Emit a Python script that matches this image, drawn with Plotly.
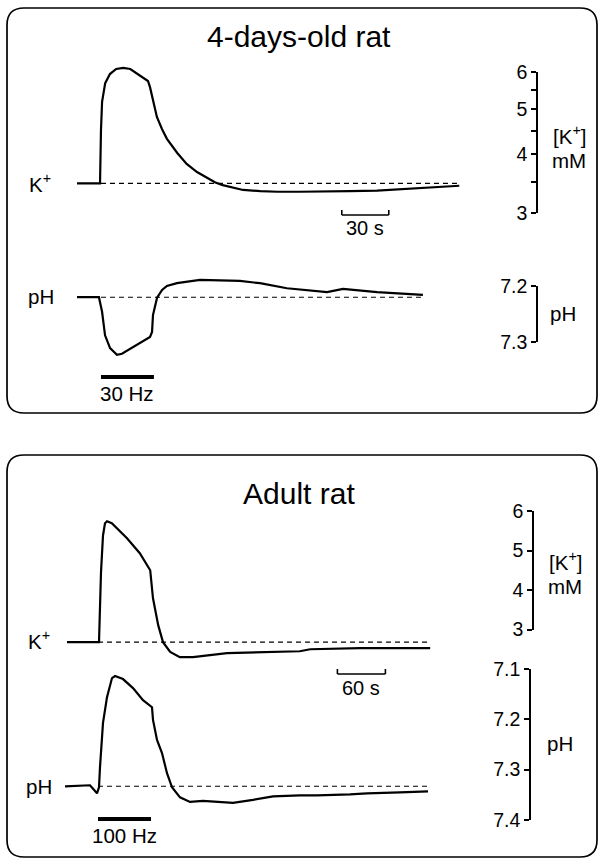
import math
import plotly.graph_objects as go

W, H = 599, 861
FONT = "Liberation Sans, Arial, Helvetica, sans-serif"

# ---------------- data ----------------
# 4-days-old rat, 30 Hz stimulation (time in s)
t_k_young = [0, 14.7, 15.3, 16, 18, 21, 25, 29.5, 34, 40, 45.3, 46.6, 48.5, 51, 54.3, 57.4,
             64, 70, 76.6, 83, 88, 93, 100, 106, 117, 128, 142, 160, 174, 191.5, 206, 219, 232, 244]
k_young = [3.47, 3.47, 4.5, 5.18, 5.68, 5.94, 6.09, 6.12, 6.09, 5.91, 5.74, 5.57, 5.23, 4.81, 4.53, 4.32,
           4.03, 3.82, 3.67, 3.56, 3.49, 3.44, 3.39, 3.36, 3.34, 3.33, 3.33, 3.33, 3.34, 3.35, 3.375, 3.39, 3.42, 3.43]
t_ph_young = [0, 14.0, 16.0, 17.9, 21.1, 25.5, 28.7, 38.3, 46.6, 47.9, 48.5, 51.1, 54.3, 57.4,
              63.8, 78.5, 104, 116.8, 134, 159.6, 169.8, 191.5, 210.6, 220.8]
ph_young = [7.22, 7.22, 7.246, 7.288, 7.311, 7.323, 7.321, 7.305, 7.291, 7.282, 7.252, 7.221, 7.207, 7.200,
            7.195, 7.189, 7.191, 7.195, 7.204, 7.211, 7.205, 7.211, 7.214, 7.216]
k_base_young = 3.47
ph_base_young = 7.22
stim_young = [15.3, 49.1]      # 30 Hz
timebar_young = [169, 199]     # 30 s

# Adult rat, 100 Hz stimulation
t_k_adult = [0, 40, 42.5, 45, 47.5, 50, 56, 75, 91, 101, 104, 107.5, 114, 120, 129, 141, 157.5,
             200, 241, 291, 304, 366, 407.5, 454]
k_adult = [2.68, 2.68, 4.45, 5.38, 5.69, 5.74, 5.69, 5.31, 4.93, 4.58, 4.50, 3.79, 3.11, 2.68, 2.43, 2.30, 2.30,
           2.40, 2.43, 2.45, 2.50, 2.53, 2.53, 2.53]
t_ph_adult = [-2.5, 28.75, 37.5, 40, 41.25, 45, 50, 56.25, 60, 70, 82.5, 95, 106.25, 107.5, 112.5, 118.75,
              125, 131.25, 141.25, 153.75, 170, 187.5, 207.5, 232.5, 257.5, 291.25, 312.5, 353.75, 375, 416.25, 451.25]
ph_adult = [7.333, 7.331, 7.347, 7.335, 7.295, 7.207, 7.156, 7.118, 7.114, 7.120, 7.138, 7.162, 7.176, 7.201,
            7.241, 7.267, 7.307, 7.335, 7.355, 7.364, 7.362, 7.364, 7.366, 7.360, 7.353, 7.351, 7.351, 7.349,
            7.347, 7.345, 7.343]
k_base_adult = 2.68
ph_base_adult = 7.333
stim_adult = [38.75, 105]      # 100 Hz
timebar_adult = [338, 398]     # 60 s

# scale-bar ticks
k_ticks_young = [3, 4, 5, 6]
k_minor_young = [3.5, 4.5, 5.5]
ph_ticks_young = [7.2, 7.3]
k_ticks_adult = [3, 4, 5, 6]
ph_ticks_adult = [7.1, 7.2, 7.3, 7.4]

# ---------------- layout helpers (pixels -> paper) ----------------
def px_x(x):
    return x / W

def px_y(y):
    return 1 - y / H

def axis_setup(dom_px, p1, v1, p2, v2, log=False):
    f = math.log10 if log else (lambda v: v)
    k = (f(v2) - f(v1)) / (p2 - p1)
    top, bot = dom_px
    rng = [f(v1) + (bot - p1) * k, f(v1) + (top - p1) * k]
    dom = [px_y(bot), px_y(top)]
    return dom, rng

def x_range(px_per_s, x0_px):
    return [-x0_px / px_per_s, (W - x0_px) / px_per_s]

fig = go.Figure()
line = dict(color="black", width=2.2)
dash = dict(color="black", width=1.1, dash="5px,4px")

fig.add_trace(go.Scatter(x=t_k_young, y=k_young, mode="lines", line=line, xaxis="x", yaxis="y"))
fig.add_trace(go.Scatter(x=[stim_young[0], t_k_young[-1]], y=[k_base_young] * 2, mode="lines",
                         line=dash, xaxis="x", yaxis="y"))
fig.add_trace(go.Scatter(x=t_ph_young, y=ph_young, mode="lines", line=line, xaxis="x", yaxis="y2"))
fig.add_trace(go.Scatter(x=[stim_young[0], t_ph_young[-1]], y=[ph_base_young] * 2, mode="lines",
                         line=dash, xaxis="x", yaxis="y2"))
fig.add_trace(go.Scatter(x=t_k_adult, y=k_adult, mode="lines", line=line, xaxis="x2", yaxis="y3"))
fig.add_trace(go.Scatter(x=[stim_adult[0], t_k_adult[-1]], y=[k_base_adult] * 2, mode="lines",
                         line=dash, xaxis="x2", yaxis="y3"))
fig.add_trace(go.Scatter(x=t_ph_adult, y=ph_adult, mode="lines", line=line, xaxis="x2", yaxis="y4"))
fig.add_trace(go.Scatter(x=[stim_adult[0], t_ph_adult[-1]], y=[ph_base_adult] * 2, mode="lines",
                         line=dash, xaxis="x2", yaxis="y4"))
# carriers for the scale-bar axes
for xa, ya in [("x", "y5"), ("x", "y6"), ("x2", "y7"), ("x2", "y8")]:
    fig.add_trace(go.Scatter(x=[None], y=[None], xaxis=xa, yaxis=ya, hoverinfo="skip"))

hidden = dict(visible=False, showgrid=False, zeroline=False, fixedrange=True, automargin=False)

d1, r1 = axis_setup([45, 262], 72, 6, 213, 3, log=True)
d2, r2 = axis_setup([262, 405], 286, 7.2, 342, 7.3)
d3, r3 = axis_setup([470, 690], 511, 6, 629.5, 3)
d4, r4 = axis_setup([650, 845], 669, 7.1, 820, 7.4)
d5, r5 = axis_setup([72, 213], 72, 6, 213, 3, log=True)
d6, r6 = axis_setup([286, 342], 286, 7.2, 342, 7.3)
d7, r7 = axis_setup([511, 629.5], 511, 6, 629.5, 3)
d8, r8 = axis_setup([669, 820], 669, 7.1, 820, 7.4)

def scale_axis(dom, rng, pos_px, vals, minor=None, log=False):
    ax = dict(domain=dom, range=rng, type="log" if log else "linear", anchor="free",
              position=px_x(pos_px), side="left", showline=True, linecolor="black", linewidth=1.6,
              ticks="outside", ticklen=5, tickwidth=1.6, tickcolor="black",
              tickvals=vals, ticktext=[str(v) for v in vals],
              tickfont=dict(family=FONT, size=19.5, color="black"), automargin=False,
              showgrid=False, zeroline=False, fixedrange=True)
    if minor:
        ax["minor"] = dict(tickvals=minor, ticks="outside", ticklen=5, tickwidth=1.6,
                           tickcolor="black", showgrid=False)
    return ax

fig.update_layout(
    width=W, height=H, margin=dict(l=0, r=0, t=0, b=0, pad=0, autoexpand=False), autosize=False,
    paper_bgcolor="white", plot_bgcolor="rgba(0,0,0,0)", showlegend=False,
    font=dict(family=FONT, color="black"),
    xaxis=dict(domain=[0, 1], range=x_range(47 / 30, 77), anchor="y", **hidden),
    xaxis2=dict(domain=[0, 1], range=x_range(48 / 60, 67), anchor="y3", **hidden),
    yaxis=dict(domain=d1, range=r1, type="log", anchor="x", **hidden),
    yaxis2=dict(domain=d2, range=r2, anchor="x", **hidden),
    yaxis3=dict(domain=d3, range=r3, anchor="x2", **hidden),
    yaxis4=dict(domain=d4, range=r4, anchor="x2", **hidden),
    yaxis5=scale_axis(d5, r5, 537, k_ticks_young, minor=k_minor_young, log=True),
    yaxis6=scale_axis(d6, r6, 537, ph_ticks_young),
    yaxis7=scale_axis(d7, r7, 533, k_ticks_adult),
    yaxis8=scale_axis(d8, r8, 530, ph_ticks_adult),
)

# ---------------- frames ----------------
def rrect(x0, y0, x1, y1, r):
    def P(x, y):
        return f"{px_x(x):.5f},{px_y(y):.5f}"
    return (f"M {P(x0 + r, y0)} L {P(x1 - r, y0)} Q {P(x1, y0)} {P(x1, y0 + r)} "
            f"L {P(x1, y1 - r)} Q {P(x1, y1)} {P(x1 - r, y1)} L {P(x0 + r, y1)} "
            f"Q {P(x0, y1)} {P(x0, y1 - r)} L {P(x0, y0 + r)} Q {P(x0, y0)} {P(x0 + r, y0)} Z")

shapes = [
    dict(type="path", path=rrect(7, 8, 597, 413, 17), xref="paper", yref="paper",
         line=dict(color="black", width=1.7)),
    dict(type="path", path=rrect(7, 455, 597, 857, 17), xref="paper", yref="paper",
         line=dict(color="black", width=1.7)),
]

def bracket(xref, t0, t1, y_px, up=5):
    s = dict(color="black", width=1.6)
    return [
        dict(type="line", xref=xref, yref="paper", x0=t0, x1=t1, y0=px_y(y_px), y1=px_y(y_px), line=s),
        dict(type="line", xref=xref, yref="paper", x0=t0, x1=t0, y0=px_y(y_px), y1=px_y(y_px - up), line=s),
        dict(type="line", xref=xref, yref="paper", x0=t1, x1=t1, y0=px_y(y_px), y1=px_y(y_px - up), line=s),
    ]

shapes += bracket("x", timebar_young[0], timebar_young[1], 215)
shapes += bracket("x2", timebar_adult[0], timebar_adult[1], 674)
shapes += [
    dict(type="line", xref="x", yref="paper", x0=stim_young[0], x1=stim_young[1],
         y0=px_y(377), y1=px_y(377), line=dict(color="black", width=4)),
    dict(type="line", xref="x2", yref="paper", x0=stim_adult[0], x1=stim_adult[1],
         y0=px_y(819), y1=px_y(819), line=dict(color="black", width=4)),
]
fig.update_layout(shapes=shapes)

# ---------------- text ----------------
def note(text, x, y, size=20.5, xref="paper", yanchor="middle"):
    return dict(text=text, x=x if xref != "paper" else px_x(x), y=px_y(y), xref=xref, yref="paper",
                showarrow=False, xanchor="center", yanchor=yanchor, borderpad=0,
                font=dict(family=FONT, size=size, color="black"))

ann = [
    note("4-days-old rat", 299, 37, size=30),
    note("Adult rat", 299, 494, size=30),
    note("K<sup>+</sup>", 40, 183),
    note("pH", 41, 296),
    note("K<sup>+</sup>", 39, 640),
    note("pH", 39, 786),
    note("30 Hz", (stim_young[0] + stim_young[1]) / 2, 393, xref="x"),
    note("100 Hz", (stim_adult[0] + stim_adult[1]) / 2, 835, xref="x2"),
    note("30 s", (timebar_young[0] + timebar_young[1]) / 2, 228, size=20, xref="x"),
    note("60 s", (timebar_adult[0] + timebar_adult[1]) / 2, 688, size=20, xref="x2"),
    note("[K<sup>+</sup>]", 569, 149, yanchor="bottom"),
    note("mM", 569, 148, yanchor="top"),
    note("pH", 563, 313),
    note("[K<sup>+</sup>]", 565, 575, yanchor="bottom"),
    note("mM", 565, 574, yanchor="top"),
    note("pH", 560, 743),
]
fig.update_layout(annotations=ann)

fig.write_html("out.html", config={"displayModeBar": False, "responsive": False},
               post_script="document.body.style.margin='0';document.body.style.overflow='hidden';")
